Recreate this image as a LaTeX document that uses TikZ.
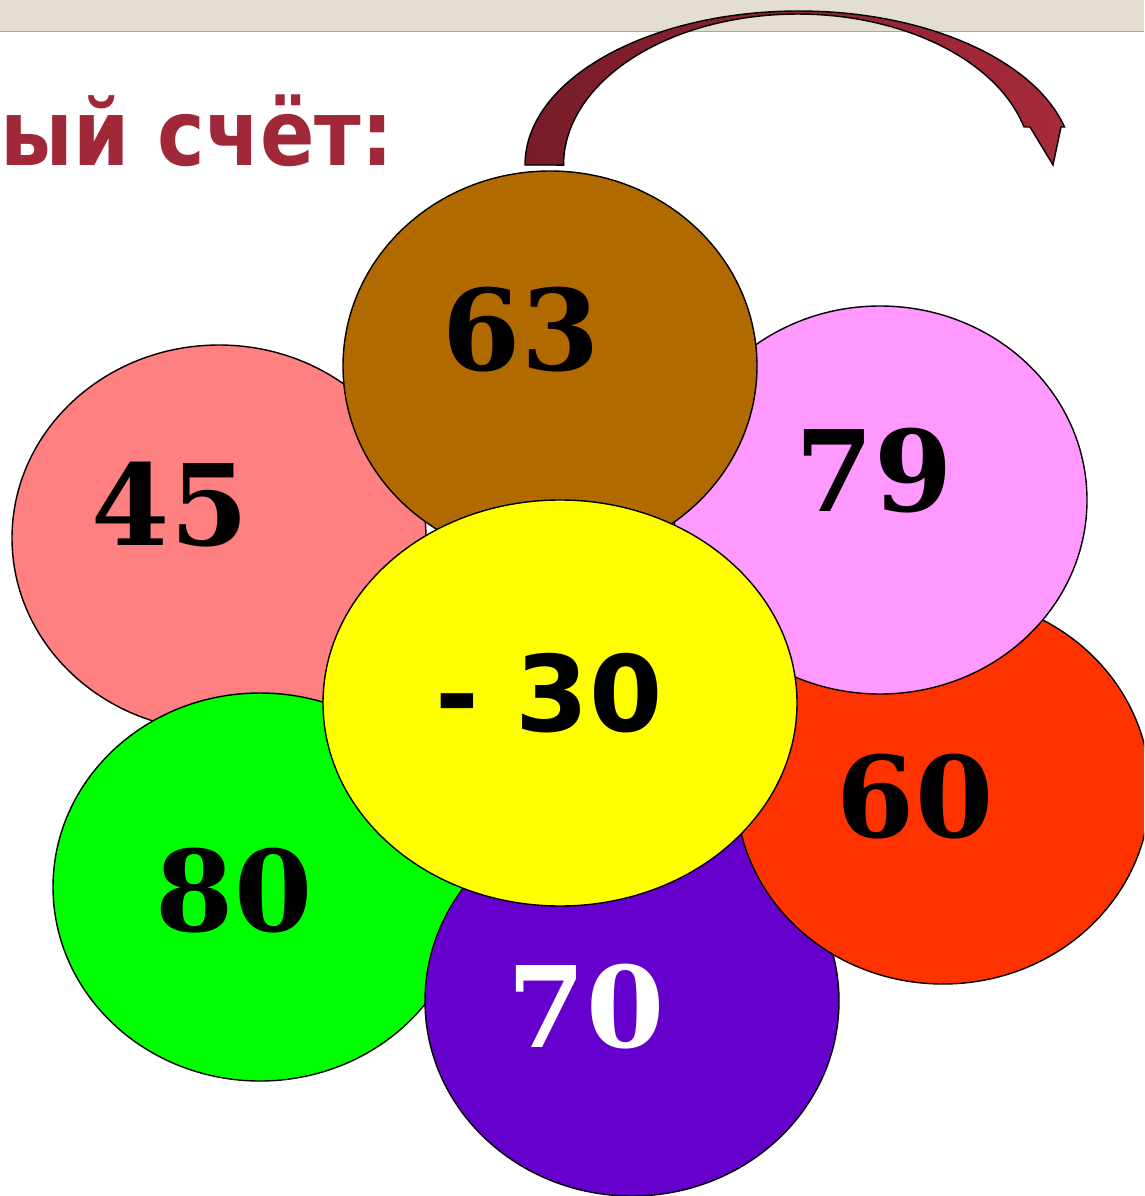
\documentclass[tikz,border=0pt]{standalone}
\usepackage{fontspec}
\usepackage{tikz}
\usetikzlibrary{positioning}
\newfontfamily\numfont{DejaVu Serif}
\newfontfamily\signfont{DejaVu Sans}
\definecolor{barbg}     {RGB}{228, 221, 210}
\definecolor{barline}   {RGB}{168, 168, 168}
\definecolor{titlered}  {RGB}{160,  40,  56}
\definecolor{arrowdark} {RGB}{118,  28,  40}
\definecolor{arrowlight}{RGB}{166,  42,  58}
\definecolor{petalpink} {RGB}{255, 128, 128}
\definecolor{petalbrown}{RGB}{176, 106,   0}
\definecolor{petallilac}{RGB}{255, 153, 255}
\definecolor{petalred}  {RGB}{255,  51,   0}
\definecolor{petalgreen}{RGB}{  0, 255,   0}
\definecolor{petalviolet}{RGB}{102,  0, 204}
\definecolor{petalcore} {RGB}{255, 255,   0}

\begin{document}
\begin{tikzpicture}[x=0.02cm, y=-0.02cm,
    petal/.style={draw=black, line width=0.8pt},
    num/.style={inner sep=0pt, font=\numfont\bfseries\fontsize{64}{64}\selectfont}]
  \useasboundingbox (0,0) rectangle (1144,1196);
  \clip (0,0) rectangle (1144,1196);

  % Window bar at the top
  \fill[barbg] (0,0) rectangle (1144,31);
  \draw[barline, line width=1pt] (0,31.5) -- (1144,31.5);

  % Heading, cut off at the left
  \node (title) [anchor=base east, inner sep=0pt, text=titlered,
    font=\signfont\bfseries\fontsize{52}{52}\selectfont] at (394,166)
    {\scalebox{0.88}[1]{ый счёт:}};

  % Curved arrow over the flower
  \draw[line width=0.8pt, draw=black, left color=arrowdark, right color=arrowlight]
    (525,165) arc[start angle=180, end angle=345.7, x radius=274, y radius=154]
    -- (1061,127) -- (1053,165) -- (1030,127) -- (1024,127)
    arc[start angle=345.4, end angle=180, x radius=234, y radius=151] -- cycle;

  % Petals (back to front)
  \draw[petal, fill=petalpink]   (219,538)  ellipse [x radius=207, y radius=193];
  \draw[petal, fill=petalgreen]  (260,887)  ellipse [x radius=207, y radius=194];
  \draw[petal, fill=petalviolet] (632,1001) ellipse [x radius=207, y radius=195];
  \draw[petal, fill=petalred]    (943,790)  ellipse [x radius=207, y radius=194];
  \draw[petal, fill=petallilac]  (880,500)  ellipse [x radius=207, y radius=194];
  \draw[petal, fill=petalbrown]  (550,366)  ellipse [x radius=207, y radius=195];

  % Middle of the flower
  \draw[petal, fill=petalcore]   (560,703)  ellipse [x radius=237, y radius=203];

  % Numbers on the petals
  \node (n63) [num] at (521,330)  {63};
  \node (n45) [num] at (170,505)  {45};
  \node (n79) [num] at (874,471)  {79};
  \node (n60) [num] at (915,797)  {60};
  \node (n80) [num] at (234,891)  {80};
  \node (n70) [num, text=white] at (586,1007) {70};
  \node (core) [inner sep=0pt, font=\signfont\bfseries\fontsize{60}{60}\selectfont]
    at (549,693) {- 30};
\end{tikzpicture}
\end{document}
